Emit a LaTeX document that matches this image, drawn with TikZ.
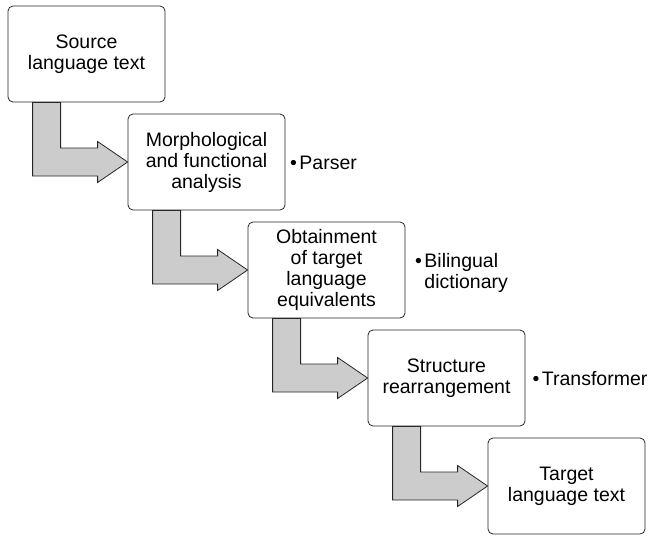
\documentclass[tikz,border=0pt]{standalone}
\usepackage{fontspec}
\setmainfont{Liberation Sans}
\usepackage{tikz}
\usetikzlibrary{positioning, calc, backgrounds}

\begin{document}
\begin{tikzpicture}[
      x=1pt, y=-1pt,
      node distance=108pt and 120pt,
      on grid,
      every node/.style={font=\fontsize{19.5}{21}\selectfont},
      stagebox/.style={draw=black!85, line width=0.8pt, rounded corners=5pt,
        minimum width=157pt, minimum height=96pt, align=center, inner sep=2pt},
      note/.style={anchor=west, align=left, inner sep=0pt},
      flow/.style={draw=black!85, line width=0.8pt, fill=black!20, line join=miter},
    ]

    \useasboundingbox (0,0) rectangle (653,536);

    \node[stagebox] at (86.5,54)      (src)   {Source\\language text};
    \node[stagebox, below right=of src]   (morph) {Morphological\\and functional\\analysis};
    \node[stagebox, below right=of morph] (equiv) {Obtainment\\of target\\language\\equivalents};
    \node[stagebox, below right=of equiv] (rearr) {Structure\\rearrangement};
    \node[stagebox, below right=of rearr] (tgt)   {Target\\language text};

    % tools used at each stage
    \node[note] (parser) at ([xshift=4.5pt,yshift=-1pt]morph.east) {•\kern2.5pt Parser};
    \node[note] (dict)   at ([xshift=9.5pt,yshift=-3pt]equiv.east)
      {•\kern2.5pt Bilingual\\\phantom{•\kern2.5pt}dictionary};
    \node[note] (trans)  at ([xshift=7pt,yshift=-1pt]rearr.east) {•\kern2.5pt Transformer};

    % bent block arrows between the stages
    \begin{scope}[on background layer]
      \foreach \a/\b in {src/morph, morph/equiv, equiv/rearr, rearr/tgt}
        \draw[flow] ([xshift=25pt]\a.south west) -- ([xshift=53pt]\a.south west)
          |- ([xshift=-30pt,yshift=14pt]\b.west)
          -- ([xshift=-30pt,yshift=20.5pt]\b.west) -- (\b.west)
          -- ([xshift=-30pt,yshift=-20.5pt]\b.west)
          -- ([xshift=-30pt,yshift=-14pt]\b.west)
          -| ([xshift=25pt]\a.south west) -- cycle;
    \end{scope}

  \end{tikzpicture}
\end{document}
